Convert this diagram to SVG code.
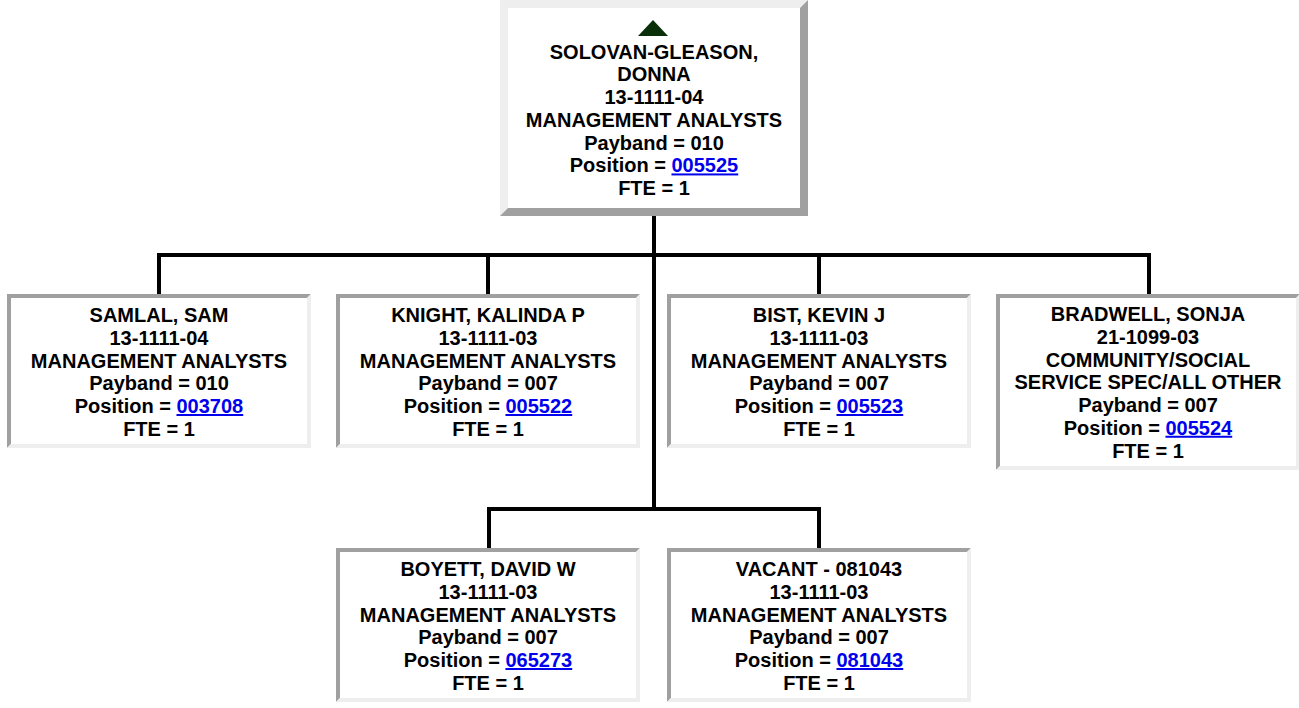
<svg xmlns="http://www.w3.org/2000/svg" width="1299" height="708" viewBox="0 0 1299 708">
<style>
.bg{fill:#ffffff}
.lt{fill:#eeeeee}
.dk{fill:#a0a0a0}
.t{font-family:"Liberation Sans",Arial,sans-serif;font-weight:bold;font-size:20px;fill:#000000;text-anchor:middle}
.lk{fill:#0000ee;text-decoration:underline}
.c{fill:none;stroke:#000000;stroke-width:4;stroke-linecap:square}
</style>
<rect width="1299" height="708" fill="#ffffff"/>
<g id="connectors">
<path class="c" d="M654 218V509M159 255H1149M159 255V292M488 255V292M819 255V292M1149 255V292M489 509H819M489 509V546M819 509V546"/>
</g>
<g id="n-solovan">
<rect class="bg" x="500" y="0" width="308" height="216"/>
<polygon class="lt" points="500,0 808,0 800,8 508,8 508,208 500,216"/>
<polygon class="dk" points="808,0 808,216 500,216 508,208 800,208 800,8"/>
<polygon points="638,36 653,20 668,36" fill="#0a300a"/>
<text class="t" x="654" y="58.7"><tspan x="654">SOLOVAN-GLEASON,</tspan><tspan x="654" dy="22.75">DONNA</tspan><tspan x="654" dy="22.75">13-1111-04</tspan><tspan x="654" dy="22.75">MANAGEMENT ANALYSTS</tspan><tspan x="654" dy="22.75">Payband = 010</tspan><tspan x="654" dy="22.75">Position = </tspan><tspan class="lk">005525</tspan><tspan x="654" dy="22.75">FTE = 1</tspan></text>
</g>
<g id="n-samlal">
<rect class="bg" x="7" y="294" width="304" height="154"/>
<polygon class="dk" points="7,294 311,294 307,298 11,298 11,444 7,448"/>
<polygon class="lt" points="311,294 311,448 7,448 11,444 307,444 307,298"/>
<text class="t" x="159" y="322"><tspan x="159">SAMLAL, SAM</tspan><tspan x="159" dy="22.75">13-1111-04</tspan><tspan x="159" dy="22.75">MANAGEMENT ANALYSTS</tspan><tspan x="159" dy="22.75">Payband = 010</tspan><tspan x="159" dy="22.75">Position = </tspan><tspan class="lk">003708</tspan><tspan x="159" dy="22.75">FTE = 1</tspan></text>
</g>
<g id="n-knight">
<rect class="bg" x="336" y="294" width="304" height="154"/>
<polygon class="dk" points="336,294 640,294 636,298 340,298 340,444 336,448"/>
<polygon class="lt" points="640,294 640,448 336,448 340,444 636,444 636,298"/>
<text class="t" x="488" y="322"><tspan x="488">KNIGHT, KALINDA P</tspan><tspan x="488" dy="22.75">13-1111-03</tspan><tspan x="488" dy="22.75">MANAGEMENT ANALYSTS</tspan><tspan x="488" dy="22.75">Payband = 007</tspan><tspan x="488" dy="22.75">Position = </tspan><tspan class="lk">005522</tspan><tspan x="488" dy="22.75">FTE = 1</tspan></text>
</g>
<g id="n-bist">
<rect class="bg" x="667" y="294" width="304" height="154"/>
<polygon class="dk" points="667,294 971,294 967,298 671,298 671,444 667,448"/>
<polygon class="lt" points="971,294 971,448 667,448 671,444 967,444 967,298"/>
<text class="t" x="819" y="322"><tspan x="819">BIST, KEVIN J</tspan><tspan x="819" dy="22.75">13-1111-03</tspan><tspan x="819" dy="22.75">MANAGEMENT ANALYSTS</tspan><tspan x="819" dy="22.75">Payband = 007</tspan><tspan x="819" dy="22.75">Position = </tspan><tspan class="lk">005523</tspan><tspan x="819" dy="22.75">FTE = 1</tspan></text>
</g>
<g id="n-bradwell">
<rect class="bg" x="996" y="294" width="304" height="176"/>
<polygon class="dk" points="996,294 1300,294 1296,298 1000,298 1000,466 996,470"/>
<polygon class="lt" points="1300,294 1300,470 996,470 1000,466 1296,466 1296,298"/>
<text class="t" x="1148" y="321"><tspan x="1148">BRADWELL, SONJA</tspan><tspan x="1148" dy="22.75">21-1099-03</tspan><tspan x="1148" dy="22.75">COMMUNITY/SOCIAL</tspan><tspan x="1148" dy="22.75">SERVICE SPEC/ALL OTHER</tspan><tspan x="1148" dy="22.75">Payband = 007</tspan><tspan x="1148" dy="22.75">Position = </tspan><tspan class="lk">005524</tspan><tspan x="1148" dy="22.75">FTE = 1</tspan></text>
</g>
<g id="n-boyett">
<rect class="bg" x="336" y="548" width="304" height="154"/>
<polygon class="dk" points="336,548 640,548 636,552 340,552 340,698 336,702"/>
<polygon class="lt" points="640,548 640,702 336,702 340,698 636,698 636,552"/>
<text class="t" x="488" y="576"><tspan x="488">BOYETT, DAVID W</tspan><tspan x="488" dy="22.75">13-1111-03</tspan><tspan x="488" dy="22.75">MANAGEMENT ANALYSTS</tspan><tspan x="488" dy="22.75">Payband = 007</tspan><tspan x="488" dy="22.75">Position = </tspan><tspan class="lk">065273</tspan><tspan x="488" dy="22.75">FTE = 1</tspan></text>
</g>
<g id="n-vacant">
<rect class="bg" x="667" y="548" width="304" height="154"/>
<polygon class="dk" points="667,548 971,548 967,552 671,552 671,698 667,702"/>
<polygon class="lt" points="971,548 971,702 667,702 671,698 967,698 967,552"/>
<text class="t" x="819" y="576"><tspan x="819">VACANT - 081043</tspan><tspan x="819" dy="22.75">13-1111-03</tspan><tspan x="819" dy="22.75">MANAGEMENT ANALYSTS</tspan><tspan x="819" dy="22.75">Payband = 007</tspan><tspan x="819" dy="22.75">Position = </tspan><tspan class="lk">081043</tspan><tspan x="819" dy="22.75">FTE = 1</tspan></text>
</g>
</svg>
